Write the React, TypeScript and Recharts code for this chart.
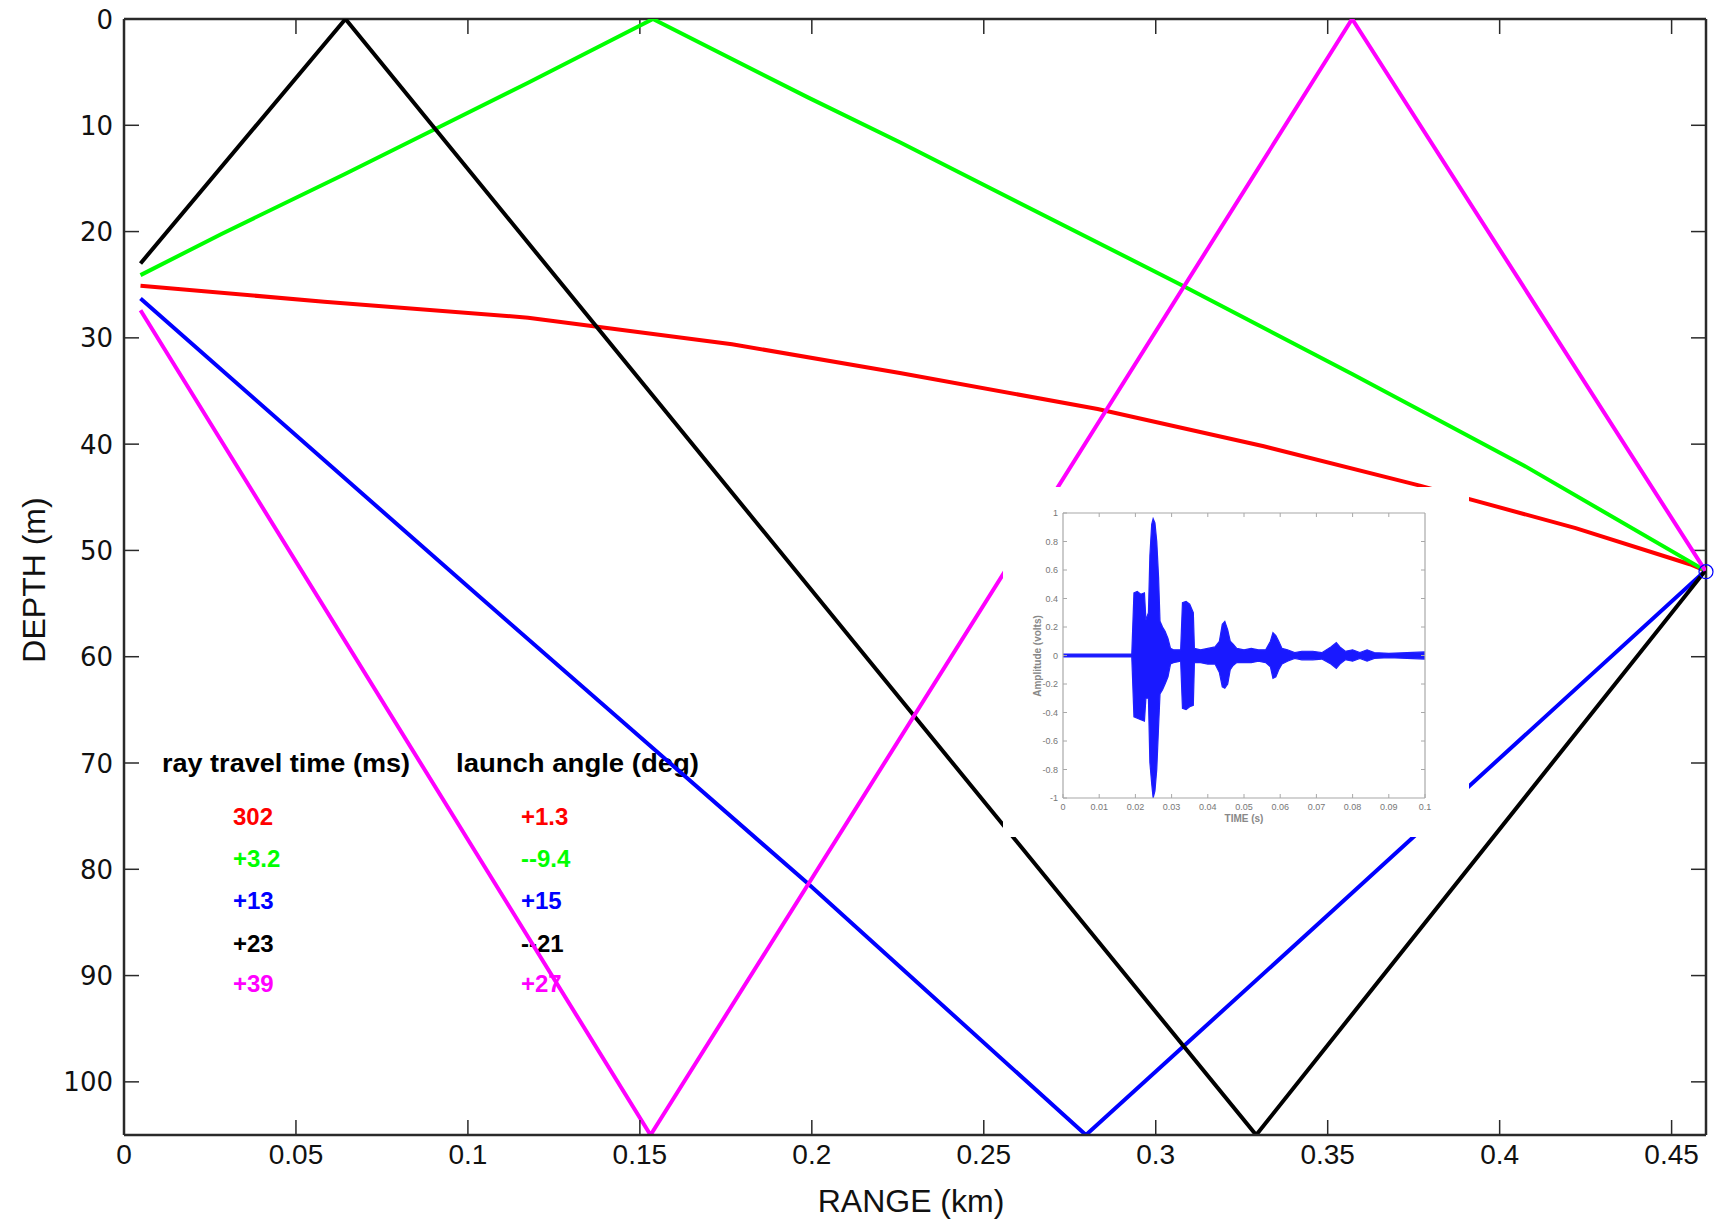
import { LineChart, Line, XAxis, YAxis, ReferenceDot, ReferenceLine, ComposedChart, Area } from "recharts";

// main axes
const rangeTicks = [0, 0.05, 0.1, 0.15, 0.2, 0.25, 0.3, 0.35, 0.4, 0.45];
const depthTicks = [0, 10, 20, 30, 40, 50, 60, 70, 80, 90, 100];

// rays: range (km) and depth (m)
const redRange = [0.0048, 0.0582, 0.1175, 0.1768, 0.2256, 0.2831, 0.3314, 0.3768, 0.4221, 0.4553, 0.4598];
const redDepth = [25.1, 26.6, 28.1, 30.6, 33.3, 36.7, 40.2, 43.9, 47.9, 51.3, 51.9];

const greenRange = [0.0048, 0.0285, 0.0641, 0.0908, 0.1175, 0.1538, 0.199, 0.2256, 0.3073, 0.3571, 0.407, 0.4598];
const greenDepth = [24.1, 20.2, 14.6, 10.3, 6.0, 0, 7.4, 11.6, 25.0, 33.4, 42.0, 51.9];

const blueRange = [0.0048, 0.1, 0.1987, 0.2797, 0.3511, 0.4598];
const blueDepth = [26.3, 53.4, 81.3, 105, 84.0, 51.9];

const blackRange = [0.0048, 0.0644, 0.3292, 0.4598];
const blackDepth = [23.0, 0, 105, 51.9];

const magentaRange = [0.0048, 0.1531, 0.3571, 0.4598];
const magentaDepth = [27.4, 105, 0, 51.9];

const rays = [
  { color: "#ff0000", range: redRange, depth: redDepth },
  { color: "#00ff00", range: greenRange, depth: greenDepth },
  { color: "#0000ff", range: blueRange, depth: blueDepth },
  { color: "#000000", range: blackRange, depth: blackDepth },
  { color: "#ff00ff", range: magentaRange, depth: magentaDepth },
];

const legendTimes = ["302", "+3.2", "+13", "+23", "+39"];
const legendAngles = ["+1.3", "--9.4", "+15", "--21", "+27"];
const legendColors = ["#ff0000", "#00ff00", "#0000ff", "#000000", "#ff00ff"];
const legendBaselines = [825, 867, 909, 952, 992];

// inset waveform envelope
const insetTime = [
  0, 0.019, 0.0196, 0.0205, 0.0215, 0.0225, 0.0229, 0.0236, 0.024, 0.0245, 0.0249, 0.0254, 0.0259, 0.0264,
  0.0268, 0.0275, 0.0282, 0.029, 0.0297, 0.0305, 0.0325, 0.033, 0.034, 0.035, 0.036, 0.0363, 0.038, 0.04,
  0.042, 0.0432, 0.044, 0.0447, 0.0455, 0.0462, 0.047, 0.048, 0.05, 0.052, 0.054, 0.056, 0.0573, 0.058,
  0.0588, 0.0596, 0.0605, 0.062, 0.064, 0.066, 0.069, 0.0715, 0.074, 0.0755, 0.0765, 0.078, 0.08, 0.082,
  0.084, 0.086, 0.09, 0.095, 0.1,
];
const insetUpper = [
  0.01, 0.01, 0.44, 0.45, 0.43, 0.44, 0.25, 0.3, 0.7, 0.92, 0.96, 0.93, 0.8, 0.55,
  0.24, 0.2, 0.17, 0.12, 0.05, 0.04, 0.04, 0.37, 0.38, 0.36, 0.3, 0.05, 0.04, 0.05,
  0.06, 0.1, 0.22, 0.24, 0.18, 0.1, 0.08, 0.05, 0.04, 0.05, 0.04, 0.04, 0.1, 0.16,
  0.14, 0.1, 0.05, 0.04, 0.02, 0.03, 0.03, 0.02, 0.06, 0.09, 0.06, 0.03, 0.04, 0.02,
  0.04, 0.02, 0.015, 0.02, 0.025,
];
const insetLower = [
  -0.01, -0.01, -0.43, -0.44, -0.45, -0.46, -0.3, -0.3, -0.75, -0.9, -1.0, -0.95, -0.8, -0.5,
  -0.27, -0.24, -0.2, -0.15, -0.06, -0.05, -0.04, -0.37, -0.38, -0.36, -0.35, -0.05, -0.05, -0.06,
  -0.06, -0.12, -0.22, -0.23, -0.2, -0.1, -0.07, -0.05, -0.05, -0.05, -0.04, -0.05, -0.08, -0.16,
  -0.15, -0.1, -0.06, -0.04, -0.02, -0.03, -0.03, -0.025, -0.06, -0.09, -0.06, -0.03, -0.04, -0.02,
  -0.04, -0.02, -0.015, -0.02, -0.025,
];
const insetTimeTicks = [0, 0.01, 0.02, 0.03, 0.04, 0.05, 0.06, 0.07, 0.08, 0.09, 0.1];
const insetAmpTicks = [1, 0.8, 0.6, 0.4, 0.2, 0, -0.2, -0.4, -0.6, -0.8, -1];

const insetData = insetTime.map((t, i) => ({ t, amp: [insetLower[i], insetUpper[i]] }));

const AX = "#2a2a2a";
const SANS = "'Liberation Sans', Arial, sans-serif";
const WIDE = "'DejaVu Sans', Verdana, sans-serif";

// inward tick length (15px) in data units of the main plot
const xTickLen = (15 * 0.46) / 1582;
const yTickLen = (15 * 105) / 1116;
// inset: 4px
const inXTickLen = (4 * 0.1) / 362;
const inYTickLen = (4 * 2) / 285;

const BottomTick = (p: any) => (
  <g>
    <line x1={p.x} y1={p.y} x2={p.x} y2={p.y - 15} stroke={AX} strokeWidth={1.5} />
    <text x={p.x} y={p.y + 29} textAnchor="middle" fontFamily={SANS} fontSize={28} fill="#111">
      {p.payload.value}
    </text>
  </g>
);
const LeftTick = (p: any) => (
  <g>
    <line x1={p.x} y1={p.y} x2={p.x + 15} y2={p.y} stroke={AX} strokeWidth={1.5} />
    <text x={p.x - 11} y={p.y} dy={9.5} textAnchor="end" fontFamily={WIDE} fontSize={26} fill="#111">
      {p.payload.value}
    </text>
  </g>
);

const IN = "#a8a8a8";
const InBottomTick = (p: any) => (
  <g>
    <line x1={p.x} y1={p.y} x2={p.x} y2={p.y - 4} stroke={IN} strokeWidth={1} />
    <text x={p.x} y={p.y + 12} textAnchor="middle" fontFamily={SANS} fontSize={9} fill="#777">
      {p.payload.value}
    </text>
  </g>
);
const InLeftTick = (p: any) => (
  <g>
    <line x1={p.x} y1={p.y} x2={p.x + 4} y2={p.y} stroke={IN} strokeWidth={1} />
    <text x={p.x - 5} y={p.y} dy={3} textAnchor="end" fontFamily={SANS} fontSize={9} fill="#777">
      {p.payload.value}
    </text>
  </g>
);

export default function App() {
  return (
    <div style={{ position: "absolute", left: 0, top: 0, width: 1715, height: 1222, background: "#fff" }}>
      {/* legend text sits under the rays */}
      <svg width={1715} height={1222} style={{ position: "absolute", left: 0, top: 0 }}>
        <g fontFamily={SANS} fontWeight="bold">
          <text x={162} y={772} fontSize={26} textLength={248} lengthAdjust="spacingAndGlyphs" fill="#000">
            ray travel time (ms)
          </text>
          <text x={456} y={772} fontSize={26} textLength={243} lengthAdjust="spacingAndGlyphs" fill="#000">
            launch angle (deg)
          </text>
          {legendTimes.map((v, i) => (
            <text key={"t" + i} x={233} y={legendBaselines[i]} fontSize={24} fill={legendColors[i]}>
              {v}
            </text>
          ))}
          {legendAngles.map((v, i) => (
            <text key={"a" + i} x={521} y={legendBaselines[i]} fontSize={24} fill={legendColors[i]}>
              {v}
            </text>
          ))}
        </g>
      </svg>

      <div style={{ position: "absolute", left: 0, top: 0 }}>
        <LineChart width={1715} height={1222} margin={{ top: 19, right: 9, bottom: 0, left: 0 }}>
          <XAxis
            xAxisId="b"
            type="number"
            dataKey="r"
            domain={[0, 0.46]}
            allowDataOverflow
            ticks={rangeTicks}
            interval={0}
            height={87}
            tickSize={0}
            tickMargin={0}
            tickLine={false}
            axisLine={{ stroke: AX, strokeWidth: 2.5 }}
            tick={(p: any) => <BottomTick {...p} />}
          />
          <YAxis
            yAxisId="l"
            type="number"
            domain={[0, 105]}
            reversed
            allowDataOverflow
            ticks={depthTicks}
            interval={0}
            width={124}
            tickSize={0}
            tickMargin={0}
            tickLine={false}
            axisLine={{ stroke: AX, strokeWidth: 2.5 }}
            tick={(p: any) => <LeftTick {...p} />}
          />
          {/* top and right frame with inward ticks */}
          <ReferenceLine xAxisId="b" yAxisId="l" y={0} stroke={AX} strokeWidth={2.5} ifOverflow="visible" />
          <ReferenceLine xAxisId="b" yAxisId="l" x={0.46} stroke={AX} strokeWidth={2.5} ifOverflow="visible" />
          {rangeTicks.slice(1).map((t) => (
            <ReferenceLine
              key={"tt" + t}
              xAxisId="b"
              yAxisId="l"
              segment={[{ x: t, y: 0 }, { x: t, y: yTickLen }]}
              stroke={AX}
              strokeWidth={1.5}
              ifOverflow="visible"
            />
          ))}
          {depthTicks.slice(1).map((d) => (
            <ReferenceLine
              key={"rt" + d}
              xAxisId="b"
              yAxisId="l"
              segment={[{ x: 0.46, y: d }, { x: 0.46 - xTickLen, y: d }]}
              stroke={AX}
              strokeWidth={1.5}
              ifOverflow="visible"
            />
          ))}
          {rays.map((ray) => (
            <Line
              key={ray.color}
              xAxisId="b"
              yAxisId="l"
              data={ray.range.map((r, i) => ({ r, d: ray.depth[i] }))}
              dataKey="d"
              type="linear"
              stroke={ray.color}
              strokeWidth={4}
              dot={false}
              activeDot={false}
              isAnimationActive={false}
            />
          ))}
          <ReferenceDot
            xAxisId="b"
            yAxisId="l"
            x={0.46}
            y={52}
            r={7}
            fill="none"
            stroke="#0000ff"
            strokeWidth={1.2}
            ifOverflow="visible"
          />
        </LineChart>
      </div>

      {/* inset: received waveform */}
      <div style={{ position: "absolute", left: 1003, top: 487, width: 466, height: 350, background: "#fff" }}>
        <ComposedChart width={466} height={350} data={insetData} margin={{ top: 26, right: 44, bottom: 0, left: 0 }}>
          <XAxis
            xAxisId="b"
            type="number"
            dataKey="t"
            domain={[0, 0.1]}
            allowDataOverflow
            ticks={insetTimeTicks}
            interval={0}
            height={39}
            tickSize={0}
            tickMargin={0}
            tickLine={false}
            axisLine={{ stroke: IN, strokeWidth: 1.2 }}
            tick={(p: any) => <InBottomTick {...p} />}
          />
          <YAxis
            yAxisId="l"
            type="number"
            domain={[-1, 1]}
            allowDataOverflow
            ticks={insetAmpTicks}
            interval={0}
            width={60}
            tickSize={0}
            tickMargin={0}
            tickLine={false}
            axisLine={{ stroke: IN, strokeWidth: 1.2 }}
            tick={(p: any) => <InLeftTick {...p} />}
          />
          <ReferenceLine xAxisId="b" yAxisId="l" y={1} stroke={IN} strokeWidth={1.2} ifOverflow="visible" />
          <ReferenceLine xAxisId="b" yAxisId="l" x={0.1} stroke={IN} strokeWidth={1.2} ifOverflow="visible" />
          {insetTimeTicks.slice(1, -1).map((t) => (
            <ReferenceLine
              key={"it" + t}
              xAxisId="b"
              yAxisId="l"
              segment={[{ x: t, y: 1 }, { x: t, y: 1 - inYTickLen }]}
              stroke={IN}
              strokeWidth={1}
              ifOverflow="visible"
            />
          ))}
          {insetAmpTicks.slice(1, -1).map((a) => (
            <ReferenceLine
              key={"ir" + a}
              xAxisId="b"
              yAxisId="l"
              segment={[{ x: 0.1, y: a }, { x: 0.1 - inXTickLen, y: a }]}
              stroke={IN}
              strokeWidth={1}
              ifOverflow="visible"
            />
          ))}
          <Area
            xAxisId="b"
            yAxisId="l"
            dataKey="amp"
            type="linear"
            fill="#0000ff"
            fillOpacity={0.9}
            stroke="#2020ff"
            strokeWidth={1.2}
            dot={false}
            activeDot={false}
            isAnimationActive={false}
          />
        </ComposedChart>
      </div>

      {/* axis titles */}
      <svg width={1715} height={1222} style={{ position: "absolute", left: 0, top: 0, pointerEvents: "none" }}>
        <text x={911} y={1212} textAnchor="middle" fontFamily={SANS} fontSize={32} fill="#111">
          RANGE (km)
        </text>
        <text
          x={0}
          y={0}
          transform="translate(45 580) rotate(-90)"
          textAnchor="middle"
          fontFamily={SANS}
          fontSize={32}
          fill="#111"
        >
          DEPTH (m)
        </text>
        <text x={1244} y={822} textAnchor="middle" fontFamily={SANS} fontSize={10} fontWeight="bold" fill="#888">
          TIME (s)
        </text>
        <text
          x={0}
          y={0}
          transform="translate(1041 656) rotate(-90)"
          textAnchor="middle"
          fontFamily={SANS}
          fontSize={10}
          fontWeight="bold"
          fill="#888"
        >
          Amplitude (volts)
        </text>
      </svg>
    </div>
  );
}
